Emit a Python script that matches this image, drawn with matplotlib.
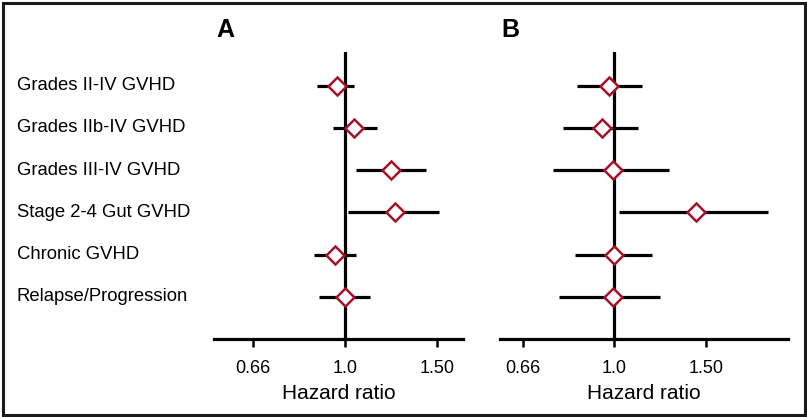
"""Forest plot of hazard ratios, two panels (A, B), recreated with matplotlib."""
import matplotlib
matplotlib.use("Agg")
import matplotlib.pyplot as plt
import matplotlib.transforms as mtransforms
from matplotlib.patches import Rectangle

plt.rcParams["font.family"] = ["Liberation Sans", "DejaVu Sans"]

outcomes = ["Grades II-IV GVHD", "Grades IIb-IV GVHD", "Grades III-IV GVHD",
            "Stage 2-4 Gut GVHD", "Chronic GVHD", "Relapse/Progression"]

hr_a = [0.966, 1.042, 1.222, 1.245, 0.957, 1.00]
lo_a = [0.884, 0.949, 1.049, 1.015, 0.874, 0.893]
hi_a = [1.040, 1.151, 1.425, 1.513, 1.049, 1.116]

hr_b = [0.979, 0.947, 0.993, 1.438, 1.00, 0.993]
lo_b = [0.850, 0.797, 0.762, 1.022, 0.839, 0.784]
hi_b = [1.129, 1.109, 1.276, 1.979, 1.182, 1.225]

tick_vals = [1 / 1.5, 1.0, 1.5]
tick_labels = ["0.66", "1.0", "1.50"]

W, H = 807, 417
fig = plt.figure(figsize=(W / 100, H / 100), dpi=100)
fig.add_artist(Rectangle((2.5 / W, 2.5 / H), (W - 5) / W, (H - 5) / H,
                         transform=fig.transFigure, fill=False, lw=2.2,
                         ec="#1a1a1a"))


def panel(x0, x1, xlim, hr, lo, hi):
    ax = fig.add_axes([x0 / W, (H - 339) / H, (x1 - x0) / W, (339 - 52) / H])
    ax.set_xscale("log")
    ax.set_xlim(*xlim)
    ax.set_ylim(6.0, -0.8)
    ys = list(range(len(hr)))
    ax.axvline(1.0, color="black", lw=2.3, zorder=1)
    ax.hlines(ys, lo, hi, color="black", lw=2.3, zorder=2)
    ax.plot(hr, ys, ls="none", marker="D", ms=9, mfc="white", mec="#a3142b",
            mew=1.8, zorder=3)
    for s in ["top", "left", "right"]:
        ax.spines[s].set_visible(False)
    ax.spines["bottom"].set_linewidth(2.3)
    ax.set_yticks([])
    ax.set_xticks(tick_vals)
    ax.set_xticklabels(tick_labels, fontsize=13)
    ax.minorticks_off()
    ax.tick_params(axis="x", direction="out", length=6, width=1.8, pad=9)
    ax.set_xlabel("Hazard ratio", fontsize=15, labelpad=5)
    return ax


ax_a = panel(214, 463, (0.563, 1.678), hr_a, lo_a, hi_a)
ax_b = panel(500, 788, (0.603, 2.16), hr_b, lo_b, hi_b)

fig.text(225.5 / W, 1 - 30 / H, "A", fontsize=18, fontweight="bold",
         ha="center", va="center")
fig.text(510 / W, 1 - 30 / H, "B", fontsize=18, fontweight="bold",
         ha="center", va="center")

trans = mtransforms.blended_transform_factory(fig.transFigure, ax_a.transData)
for i, name in enumerate(outcomes):
    ax_a.text(17 / W, i, name, transform=trans, fontsize=13.3, ha="left",
              va="center", clip_on=False)

fig.savefig("out.png", dpi=100)
